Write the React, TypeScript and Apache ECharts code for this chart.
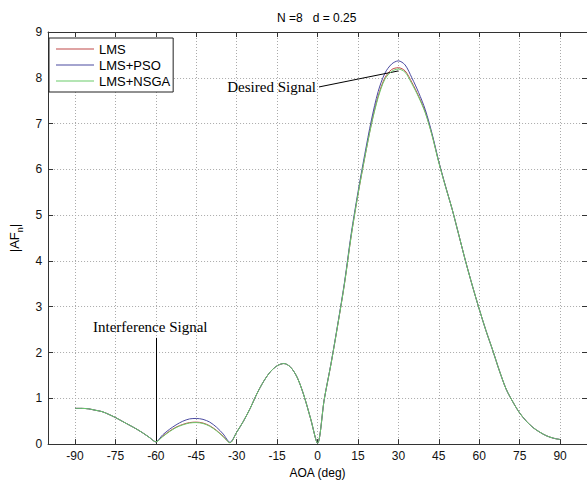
import React, { useEffect, useRef } from "react";
import * as echarts from "echarts";

const angles = [
  -90, -87.5, -85, -82.5, -80, -77.5, -75, -72.5, -70, -67.5, -65, -62.5, -60,
  -57.5, -55, -52.5, -50, -47.5, -45, -42.5, -40, -37.5, -35, -32.5, -30,
  -27.5, -25, -22.5, -20, -17.5, -15, -12.5, -10, -7.5, -5, -2.5, 0,
  2.5, 5, 7.5, 10, 12.5, 15, 17.5, 20, 22.5, 25, 27.5, 30,
  32.5, 35, 37.5, 40, 42.5, 45, 47.5, 50, 52.5, 55, 57.5, 60,
  62.5, 65, 67.5, 70, 72.5, 75, 77.5, 80, 82.5, 85, 87.5, 90,
];

const lmsValues = [
  0.78, 0.78, 0.77, 0.74, 0.71, 0.65, 0.58, 0.5, 0.42, 0.34, 0.25, 0.15, 0.05,
  0.17, 0.28, 0.37, 0.43, 0.47, 0.48, 0.46, 0.4, 0.3, 0.17, 0.03, 0.26,
  0.5, 0.78, 1.1, 1.37, 1.58, 1.71, 1.76, 1.68, 1.45, 1.05, 0.54, 0.02,
  0.98, 1.75, 2.6, 3.5, 4.55, 5.45, 6.25, 7.0, 7.6, 8.0, 8.18, 8.22,
  8.15, 7.9, 7.6, 7.25, 6.75, 6.16, 5.63, 5.12, 4.55, 3.98, 3.45, 2.95,
  2.48, 2.05, 1.6, 1.2, 0.92, 0.68, 0.5, 0.36, 0.26, 0.18, 0.13, 0.1,
];

const psoValues = [
  0.78, 0.78, 0.77, 0.74, 0.71, 0.65, 0.58, 0.5, 0.42, 0.34, 0.25, 0.15, 0.05,
  0.2, 0.32, 0.42, 0.5, 0.55, 0.56, 0.54, 0.48, 0.37, 0.22, 0.04, 0.26,
  0.5, 0.78, 1.1, 1.37, 1.58, 1.71, 1.76, 1.68, 1.45, 1.05, 0.54, 0.02,
  0.98, 1.76, 2.62, 3.53, 4.6, 5.5, 6.32, 7.08, 7.7, 8.1, 8.3, 8.37,
  8.28, 8.0, 7.68, 7.3, 6.78, 6.17, 5.63, 5.12, 4.55, 3.98, 3.45, 2.95,
  2.48, 2.05, 1.6, 1.2, 0.92, 0.68, 0.5, 0.36, 0.26, 0.18, 0.13, 0.1,
];

const nsgaValues = [
  0.78, 0.78, 0.77, 0.74, 0.71, 0.65, 0.58, 0.5, 0.42, 0.34, 0.25, 0.15, 0.05,
  0.16, 0.27, 0.36, 0.42, 0.46, 0.47, 0.45, 0.39, 0.29, 0.16, 0.03, 0.26,
  0.5, 0.78, 1.1, 1.37, 1.58, 1.71, 1.76, 1.68, 1.45, 1.05, 0.54, 0.02,
  0.98, 1.75, 2.6, 3.5, 4.55, 5.45, 6.25, 6.98, 7.57, 7.97, 8.14, 8.19,
  8.12, 7.87, 7.58, 7.23, 6.74, 6.15, 5.62, 5.12, 4.55, 3.98, 3.45, 2.95,
  2.48, 2.05, 1.6, 1.2, 0.92, 0.68, 0.5, 0.36, 0.26, 0.18, 0.13, 0.1,
];

const xTicks = [-90, -75, -60, -45, -30, -15, 0, 15, 30, 45, 60, 75, 90];
const seriesNames = ["LMS", "LMS+PSO", "LMS+NSGA"];
const seriesColors = ["#c04848", "#4a4aa0", "#6acb6a"];
const titleText = "N =8   d = 0.25";

const sans = '"Liberation Sans", Arial, sans-serif';
const serif = '"Liberation Serif", "Times New Roman", serif';

export default function App() {
  const ref = useRef<HTMLDivElement>(null);
  useEffect(() => {
    if (!ref.current) return;
    const chart = echarts.init(ref.current, undefined, { renderer: "svg" });
    const valuesList = [lmsValues, psoValues, nsgaValues];
    const series: any[] = valuesList.map((vals, k) => ({
      name: seriesNames[k],
      type: "line",
      xAxisIndex: 0,
      yAxisIndex: 0,
      data: angles.map((a, i) => [a, vals[i]]),
      symbol: "none",
      showSymbol: false,
      smooth: 0.3,
      lineStyle: { color: seriesColors[k], width: 1 },
      itemStyle: { color: seriesColors[k] },
      z: 3 + k,
    }));
    series[0].markLine = {
      silent: true,
      symbol: ["none", "none"],
      label: { show: false },
      lineStyle: { color: "#000", width: 1, type: "solid" },
      data: [
        [{ coord: [0.55, 7.8] }, { coord: [30, 8.15] }],
        [{ coord: [-60, 2.32] }, { coord: [-60, 0.07] }],
      ],
    };
    const axisLine = { show: true, onZero: false, lineStyle: { color: "#333", width: 1 } };
    chart.setOption({
      animation: false,
      backgroundColor: "#fff",
      title: {
        text: titleText,
        left: 277,
        top: 12,
        padding: 0,
        textStyle: { fontSize: 12, fontWeight: "normal", color: "#000", fontFamily: sans },
      },
      legend: {
        orient: "vertical",
        left: 49,
        top: 38,
        padding: [4, 3, 4, 7],
        icon: "rect",
        itemWidth: 38,
        itemHeight: 1,
        itemGap: 2,
        borderColor: "#222",
        borderWidth: 1,
        backgroundColor: "#fff",
        borderRadius: 0,
        data: seriesNames,
        textStyle: { fontSize: 13, lineHeight: 14, color: "#000", fontFamily: sans },
      },
      grid: { left: 43, right: -3, top: 32, bottom: 34, containLabel: false },
      xAxis: [
        {
          type: "value",
          min: -100,
          max: 100,
          position: "bottom",
          name: "AOA (deg)",
          nameLocation: "middle",
          nameGap: 19,
          nameTextStyle: { fontSize: 12, color: "#000", fontFamily: sans },
          axisLine,
          axisTick: { show: true, inside: true, length: 5, customValues: xTicks, lineStyle: { color: "#333" } },
          axisLabel: { customValues: xTicks, fontSize: 12, color: "#111", margin: 6, fontFamily: sans },
          splitLine: { show: true, lineStyle: { color: "#aaa", type: [1, 2], width: 1 } },
        },
        {
          type: "value",
          min: -100,
          max: 100,
          position: "top",
          axisLine,
          axisTick: { show: true, inside: true, length: 5, customValues: xTicks, lineStyle: { color: "#333" } },
          axisLabel: { show: false, customValues: xTicks },
          splitLine: { show: false },
        },
      ],
      yAxis: [
        {
          type: "value",
          min: 0,
          max: 9,
          interval: 1,
          position: "left",
          name: "{a||AF}{s|n}{a||}",
          nameLocation: "middle",
          nameGap: 22,
          nameRotate: 90,
          nameTextStyle: {
            color: "#000",
            fontFamily: sans,
            rich: {
              a: { fontSize: 13, lineHeight: 20, verticalAlign: "middle", fontFamily: sans, color: "#000" },
              s: { fontSize: 9, lineHeight: 9, verticalAlign: "bottom", fontFamily: sans, color: "#000" },
            },
          },
          axisLine,
          axisTick: { show: true, inside: true, length: 5, lineStyle: { color: "#333" } },
          axisLabel: { fontSize: 12, color: "#111", margin: 6, fontFamily: sans },
          splitLine: { show: true, lineStyle: { color: "#aaa", type: [1, 2], width: 1 } },
        },
        {
          type: "value",
          min: 0,
          max: 9,
          interval: 1,
          position: "right",
          axisLine,
          axisTick: { show: true, inside: true, length: 5, lineStyle: { color: "#333" } },
          axisLabel: { show: false },
          splitLine: { show: false },
        },
      ],
      graphic: [
        {
          type: "text",
          x: 316,
          y: 87,
          style: {
            text: "Desired Signal",
            fontSize: 15,
            fontFamily: serif,
            fill: "#000",
            textAlign: "right",
            textVerticalAlign: "middle",
          },
          z: 10,
        },
        {
          type: "text",
          x: 93,
          y: 327,
          style: {
            text: "Interference Signal",
            fontSize: 15,
            fontFamily: serif,
            fill: "#000",
            textAlign: "left",
            textVerticalAlign: "middle",
          },
          z: 10,
        },
      ],
      series,
    });
    return () => chart.dispose();
  }, []);
  return (
    <div
      ref={ref}
      style={{ position: "fixed", left: 0, top: 0, width: 587, height: 484, overflow: "hidden" }}
    />
  );
}
